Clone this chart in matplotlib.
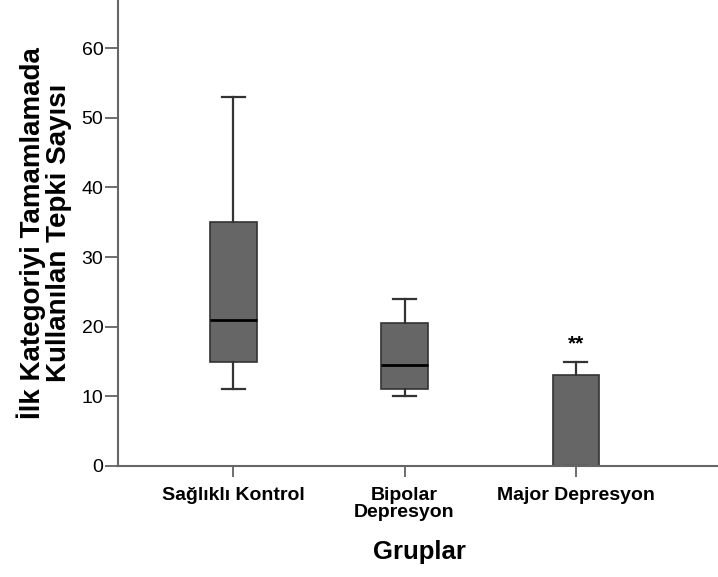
import matplotlib
matplotlib.use('Agg')
import matplotlib.pyplot as plt

plt.rcParams['font.family'] = ['Liberation Sans', 'DejaVu Sans']

groups = ['Sağlıklı Kontrol', 'Bipolar\nDepresyon', 'Major Depresyon']
whisker_low = [11, 10, 0]
q1 = [15, 11, 0]
median = [21, 14.5, 0]
q3 = [35, 20.5, 13]
whisker_high = [53, 24, 15]
yticks = [0, 10, 20, 30, 40, 50, 60]

stats = []
for i in range(len(groups)):
    stats.append({'whislo': whisker_low[i], 'q1': q1[i], 'med': median[i],
                  'q3': q3[i], 'whishi': whisker_high[i], 'fliers': []})

fig = plt.figure(figsize=(7.18, 5.77), dpi=100)
ax = fig.add_axes([0.1643, 0.1924, 0.84, 0.8076])

ax.bxp(stats, positions=[1, 2, 3], widths=0.27, patch_artist=True, showfliers=False,
       boxprops=dict(facecolor='#666666', edgecolor='#333333', linewidth=1.2),
       medianprops=dict(color='black', linewidth=2),
       whiskerprops=dict(color='#333333', linewidth=1.6),
       capprops=dict(color='#333333', linewidth=1.6), capwidths=0.135)

# significance mark
ax.text(3, 17.6, '**', ha='center', va='center', fontsize=15, fontweight='bold')

ax.set_xlim(0.325, 3.85)
ax.set_ylim(0, 66.9)
ax.set_yticks(yticks)
ax.set_xticks([1, 2, 3])
ax.set_xticklabels(groups, fontsize=14, fontweight='bold', va='top', linespacing=1.0)
ax.tick_params(axis='y', labelsize=14, length=9.5, width=1.2, color='#555555', pad=1)
ax.tick_params(axis='x', length=8, width=1.2, color='#555555', pad=7)

for side in ['top', 'right']:
    ax.spines[side].set_visible(False)
for side in ['left', 'bottom']:
    ax.spines[side].set_color('#666666')
    ax.spines[side].set_linewidth(1.5)

ax.set_ylabel('İlk Kategoriyi Tamamlamada\nKullanılan Tepki Sayısı',
              fontsize=20, fontweight='bold', linespacing=1.0, labelpad=7)
ax.set_xlabel('Gruplar', fontsize=18.5, fontweight='bold', labelpad=14)

fig.savefig('out.png', dpi=100)
